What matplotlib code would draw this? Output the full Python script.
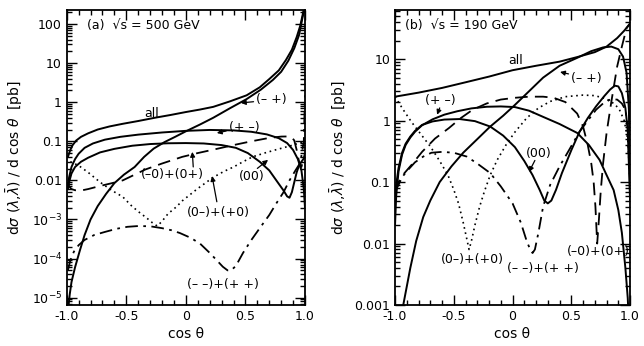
import numpy as np
import matplotlib
matplotlib.use("Agg")
import matplotlib.pyplot as plt
from matplotlib.ticker import LogLocator, MultipleLocator, FixedLocator, NullFormatter

# ---------------- panel (a): sqrt(s) = 500 GeV ----------------
a_all_x = [-0.99, -0.97, -0.95, -0.92, -0.88, -0.82, -0.74, -0.64, -0.53, -0.4, -0.26, -0.13, 0.0, 0.12, 0.23, 0.37, 0.51, 0.62, 0.7, 0.78, 0.84, 0.89, 0.93, 0.96, 0.98, 1.0]
a_all_y = [0.04, 0.06, 0.08, 0.105, 0.13, 0.16, 0.2, 0.24, 0.28, 0.33, 0.4, 0.47, 0.56, 0.65, 0.76, 1.05, 1.5, 2.4, 3.9, 6.5, 12, 22, 46, 90, 170, 320]

a_pm_x = [-0.99, -0.98, -0.96, -0.93, -0.9, -0.85, -0.78, -0.68, -0.55, -0.4, -0.2, 0.0, 0.2, 0.4, 0.55, 0.68, 0.78, 0.85, 0.9, 0.94, 0.97, 0.99, 1.0]
a_pm_y = [0.007, 0.012, 0.022, 0.035, 0.048, 0.068, 0.088, 0.11, 0.13, 0.148, 0.168, 0.185, 0.195, 0.19, 0.175, 0.15, 0.12, 0.09, 0.06, 0.035, 0.018, 0.006, 0.002]

a_00_x = [-0.99, -0.98, -0.96, -0.93, -0.88, -0.82, -0.72, -0.6, -0.45, -0.3, -0.15, 0.0, 0.15, 0.3, 0.42, 0.52, 0.62, 0.7, 0.77, 0.82, 0.85, 0.87, 0.89, 0.91, 0.93, 0.95, 0.97, 1.0]
a_00_y = [0.006, 0.009, 0.015, 0.022, 0.03, 0.038, 0.052, 0.064, 0.077, 0.085, 0.089, 0.09, 0.088, 0.08, 0.068, 0.05, 0.03, 0.018, 0.009, 0.0055, 0.0039, 0.0036, 0.005, 0.009, 0.016, 0.024, 0.03, 0.04]

a_mp_x = [-0.985, -0.975, -0.96, -0.93, -0.89, -0.85, -0.8, -0.74, -0.67, -0.6, -0.52, -0.43, -0.35, -0.27, -0.18, -0.09, 0.0, 0.12, 0.23, 0.37, 0.51, 0.63, 0.73, 0.8, 0.86, 0.91, 0.95, 0.98, 1.0]
a_mp_y = [6e-6, 1.2e-5, 2.5e-5, 6e-5, 1.6e-4, 4e-4, 1e-3, 2.2e-3, 4.5e-3, 0.0085, 0.014, 0.022, 0.04, 0.065, 0.095, 0.13, 0.18, 0.27, 0.4, 0.7, 1.2, 2.1, 3.7, 6, 11.5, 24, 52, 150, 300]

a_L0_x = [-0.99, -0.98, -0.96, -0.93, -0.88, -0.82, -0.72, -0.62, -0.53, -0.43, -0.34, -0.2, -0.03, 0.1, 0.25, 0.4, 0.55, 0.7, 0.8, 0.86, 0.89, 0.91, 0.93, 0.95, 0.97, 1.0]
a_L0_y = [0.009, 0.007, 0.006, 0.0056, 0.0055, 0.006, 0.0072, 0.0085, 0.01, 0.014, 0.019, 0.027, 0.04, 0.05, 0.063, 0.08, 0.1, 0.122, 0.132, 0.133, 0.125, 0.105, 0.06, 0.03, 0.022, 0.05]

a_0L_x = [-0.97, -0.9, -0.82, -0.72, -0.62, -0.53, -0.46, -0.4, -0.33, -0.28, -0.24, -0.2, -0.15, -0.08, -0.03, 0.1, 0.23, 0.32, 0.4, 0.48, 0.56, 0.66, 0.75, 0.83, 0.9, 0.95, 1.0]
a_0L_y = [0.03, 0.024, 0.016, 0.009, 0.0055, 0.0038, 0.0023, 0.0016, 0.0011, 0.00082, 0.00068, 0.0009, 0.0014, 0.0021, 0.003, 0.0062, 0.012, 0.017, 0.022, 0.03, 0.04, 0.05, 0.06, 0.07, 0.08, 0.09, 0.1]

a_TT_x = [-0.99, -0.97, -0.94, -0.9, -0.85, -0.77, -0.68, -0.58, -0.49, -0.4, -0.3, -0.2, -0.12, -0.05, 0.04, 0.12, 0.2, 0.26, 0.31, 0.35, 0.38, 0.42, 0.48, 0.55, 0.62, 0.7, 0.76, 0.82, 0.87, 0.92, 0.96, 0.99, 1.0]
a_TT_y = [5e-5, 9e-5, 1.5e-4, 2.2e-4, 3e-4, 4e-4, 4.8e-4, 5.8e-4, 6.5e-4, 6.8e-4, 6.7e-4, 6e-4, 5.3e-4, 4.5e-4, 3.4e-4, 2.4e-4, 1.4e-4, 9e-5, 6.2e-5, 5e-5, 5e-5, 6.5e-5, 1.4e-4, 3e-4, 6e-4, 1.3e-3, 2.6e-3, 5e-3, 0.01, 0.018, 0.028, 0.1, 1.5]

# ---------------- panel (b): sqrt(s) = 190 GeV ----------------
b_all_x = [-1.0, -0.8, -0.6, -0.4, -0.2, 0.0, 0.2, 0.4, 0.55, 0.7, 0.8, 0.89, 0.95, 1.0]
b_all_y = [2.45, 2.85, 3.4, 4.2, 5.2, 6.6, 7.8, 9.1, 10.8, 13, 16, 22, 29, 38]

b_mp_x = [-0.93, -0.9, -0.87, -0.82, -0.76, -0.7, -0.62, -0.52, -0.42, -0.3, -0.19, -0.08, 0.02, 0.14, 0.26, 0.4, 0.55, 0.67, 0.77, 0.84, 0.9, 0.94, 0.97, 0.99, 1.0]
b_mp_y = [0.001, 0.002, 0.004, 0.011, 0.027, 0.05, 0.1, 0.18, 0.3, 0.5, 0.8, 1.2, 1.8, 3.0, 5.0, 7.8, 10.5, 13.5, 15.5, 16, 14.5, 11, 6, 1.5, 0.05]

b_pm_x = [-1.0, -0.99, -0.97, -0.94, -0.91, -0.87, -0.83, -0.77, -0.68, -0.58, -0.47, -0.35, -0.22, -0.1, 0.02, 0.14, 0.26, 0.4, 0.55, 0.65, 0.74, 0.8, 0.86, 0.9, 0.93, 0.96, 0.98, 0.99]
b_pm_y = [0.02, 0.06, 0.15, 0.28, 0.4, 0.53, 0.66, 0.84, 1.05, 1.25, 1.42, 1.58, 1.68, 1.7, 1.66, 1.45, 1.15, 0.88, 0.63, 0.4, 0.23, 0.13, 0.074, 0.035, 0.015, 0.004, 0.0013, 0.0005]

b_00_x = [-1.0, -0.99, -0.97, -0.94, -0.91, -0.87, -0.83, -0.77, -0.68, -0.58, -0.45, -0.32, -0.19, -0.08, 0.02, 0.1, 0.17, 0.23, 0.27, 0.3, 0.33, 0.37, 0.42, 0.5, 0.57, 0.64, 0.71, 0.78, 0.83, 0.87, 0.9, 0.93, 0.96, 0.98, 1.0]
b_00_y = [0.06, 0.09, 0.17, 0.3, 0.42, 0.55, 0.68, 0.85, 0.97, 1.04, 1.06, 0.98, 0.8, 0.57, 0.37, 0.22, 0.13, 0.075, 0.05, 0.045, 0.05, 0.075, 0.14, 0.33, 0.66, 1.1, 1.7, 2.5, 3.2, 3.7, 3.6, 2.8, 1.6, 0.7, 0.05]

b_L0_x = [-1.0, -0.97, -0.92, -0.86, -0.77, -0.66, -0.54, -0.44, -0.34, -0.22, -0.1, 0.02, 0.14, 0.26, 0.35, 0.45, 0.55, 0.6, 0.64, 0.67, 0.69, 0.705, 0.72, 0.735, 0.75, 0.77, 0.8, 0.84, 0.89, 0.93, 0.97, 1.0]
b_L0_y = [0.07, 0.1, 0.14, 0.19, 0.31, 0.51, 0.76, 1.1, 1.5, 1.9, 2.2, 2.35, 2.45, 2.45, 2.35, 2.0, 1.3, 0.8, 0.4, 0.2, 0.1, 0.04, 0.01, 0.025, 0.07, 0.2, 0.63, 2.0, 7.6, 16, 32, 38]

b_0L_x = [-1.0, -0.93, -0.86, -0.78, -0.7, -0.62, -0.55, -0.5, -0.46, -0.42, -0.39, -0.37, -0.35, -0.32, -0.28, -0.24, -0.19, -0.13, -0.05, 0.02, 0.12, 0.22, 0.32, 0.45, 0.6, 0.7, 0.8, 0.87, 0.91, 0.95, 0.98, 1.0]
b_0L_y = [2.45, 1.5, 0.95, 0.6, 0.38, 0.22, 0.13, 0.075, 0.045, 0.022, 0.012, 0.008, 0.011, 0.02, 0.04, 0.07, 0.13, 0.23, 0.42, 0.65, 1.1, 1.6, 2.05, 2.45, 2.6, 2.55, 2.25, 1.85, 1.5, 1.0, 0.5, 0.1]

b_TT_x = [-1.0, -0.97, -0.94, -0.9, -0.83, -0.76, -0.69, -0.6, -0.5, -0.39, -0.3, -0.19, -0.1, 0.0, 0.07, 0.12, 0.15, 0.17, 0.19, 0.22, 0.26, 0.32, 0.4, 0.48, 0.57, 0.64, 0.71, 0.77, 0.83, 0.89, 0.93, 0.96, 0.98, 1.0]
b_TT_y = [0.07, 0.09, 0.12, 0.15, 0.21, 0.26, 0.3, 0.31, 0.3, 0.26, 0.2, 0.14, 0.085, 0.045, 0.022, 0.011, 0.008, 0.007, 0.008, 0.015, 0.04, 0.09, 0.18, 0.33, 0.66, 1.0, 1.5, 1.9, 2.2, 2.2, 1.9, 1.5, 0.8, 0.1]

x_ticks = [-1.0, -0.5, 0.0, 0.5, 1.0]
x_ticklabels = ["-1.0", "-0.5", "0", "0.5", "1.0"]
a_yticks = [1e-5, 1e-4, 1e-3, 1e-2, 1e-1, 1, 10, 100]
a_yticklabels = ["10$^{-5}$", "10$^{-4}$", "10$^{-3}$", "0.01", "0.1", "1", "10", "100"]
b_yticks = [1e-3, 1e-2, 1e-1, 1, 10]
b_yticklabels = ["0.001", "0.01", "0.1", "1", "10"]

plt.rcParams['font.family'] = ['DejaVu Sans']
fig = plt.figure(figsize=(6.44, 3.46), dpi=100)
axA = fig.add_axes([0.1036, 0.1185, 0.370, 0.8526])
axB = fig.add_axes([0.6134, 0.1185, 0.365, 0.8526])

solid = dict(color='black', lw=1.4, ls='-')
dashed = dict(color='black', lw=1.3, ls=(0, (7, 4)))
dotted = dict(color='black', lw=1.2, ls=(0, (1, 2.2)))
dashdot = dict(color='black', lw=1.3, ls=(0, (7, 3, 1.5, 3)))

def style(ax, yt, ytl, ylim):
    ax.set_yscale('log')
    ax.set_xlim(-1.0, 1.0)
    ax.set_ylim(*ylim)
    ax.set_xticks(x_ticks)
    ax.set_xticklabels(x_ticklabels)
    ax.xaxis.set_minor_locator(MultipleLocator(0.1))
    ax.yaxis.set_major_locator(FixedLocator(yt))
    ax.set_yticklabels(ytl)
    ax.yaxis.set_minor_locator(LogLocator(base=10, subs=np.arange(2, 10), numticks=30))
    ax.yaxis.set_minor_formatter(NullFormatter())
    ax.tick_params(which='both', direction='in', top=True, right=True, labelsize=9, width=1.0)
    ax.tick_params(which='major', length=7)
    ax.tick_params(which='minor', length=3.5)
    for s in ax.spines.values():
        s.set_linewidth(1.3)
    ax.set_xlabel('cos θ', fontsize=10, labelpad=3)

style(axA, a_yticks, a_yticklabels, (6.5e-6, 228))
style(axB, b_yticks, b_yticklabels, (1e-3, 63))

axA.plot(a_all_x, a_all_y, **solid)
axA.plot(a_pm_x, a_pm_y, **solid)
axA.plot(a_00_x, a_00_y, **solid)
axA.plot(a_mp_x, a_mp_y, **solid)
axA.plot(a_L0_x, a_L0_y, **dashed)
axA.plot(a_0L_x, a_0L_y, **dotted)
axA.plot(a_TT_x, a_TT_y, **dashdot)

axB.plot(b_all_x, b_all_y, **solid)
axB.plot(b_mp_x, b_mp_y, **solid)
axB.plot(b_pm_x, b_pm_y, **solid)
axB.plot(b_00_x, b_00_y, **solid)
axB.plot(b_L0_x, b_L0_y, **dashed)
axB.plot(b_0L_x, b_0L_y, **dotted)
axB.plot(b_TT_x, b_TT_y, **dashdot)

ylab = r'd$\sigma$ ($\lambda$,$\bar{\lambda}$) / d cos $\theta$  [pb]'
axA.set_ylabel(ylab, fontsize=10, labelpad=5)
axB.set_ylabel(ylab, fontsize=10, labelpad=4)

fs = 9
arrow = dict(arrowstyle='-|>', color='black', lw=0.9, mutation_scale=7, shrinkA=0, shrinkB=0)

def lab(ax, txt, xy, ha='center'):
    ax.text(xy[0], xy[1], txt, transform=ax.transAxes, fontsize=fs, ha=ha, va='center')

def arr(ax, txt, xyt, xyh, ha='center'):
    ax.annotate(txt, xy=xyh, xycoords='axes fraction', xytext=xyt, textcoords='axes fraction',
                fontsize=fs, ha=ha, va='center', arrowprops=arrow)

lab(axA, '(a)  √s = 500 GeV', (0.085, 0.949), ha='left')
lab(axA, 'all', (0.358, 0.650))
arr(axA, '(– +)', (0.86, 0.695), (0.731, 0.685))
arr(axA, '(+ –)', (0.745, 0.603), (0.63, 0.583))
lab(axA, '(–0)+(0+)', (0.442, 0.444))
axA.annotate('', xy=(0.527, 0.519), xycoords='axes fraction', xytext=(0.531, 0.468),
             textcoords='axes fraction', arrowprops=arrow)
lab(axA, '(00)', (0.778, 0.434))
axA.annotate('', xy=(0.845, 0.492), xycoords='axes fraction', xytext=(0.80, 0.463),
             textcoords='axes fraction', arrowprops=arrow)
lab(axA, '(0–)+(+0)', (0.635, 0.315))
axA.annotate('', xy=(0.61, 0.437), xycoords='axes fraction', xytext=(0.63, 0.35),
             textcoords='axes fraction', arrowprops=arrow)
lab(axA, '(– –)+(+ +)', (0.656, 0.071))

lab(axB, '(b)  √s = 190 GeV', (0.043, 0.949), ha='left')
lab(axB, 'all', (0.511, 0.83))
arr(axB, '(– +)', (0.815, 0.769), (0.702, 0.79))
lab(axB, '(+ –)', (0.191, 0.692))
axB.annotate('', xy=(0.179, 0.645), xycoords='axes fraction', xytext=(0.19, 0.668),
             textcoords='axes fraction', arrowprops=arrow)
lab(axB, '(00)', (0.613, 0.515))
axB.annotate('', xy=(0.57, 0.451), xycoords='axes fraction', xytext=(0.595, 0.49),
             textcoords='axes fraction', arrowprops=arrow)
lab(axB, '(0–)+(+0)', (0.328, 0.153))
lab(axB, '(– –)+(+ +)', (0.63, 0.125))
lab(axB, '(–0)+(0+)', (0.998, 0.180), ha='right')

fig.savefig('out.png', dpi=100)
